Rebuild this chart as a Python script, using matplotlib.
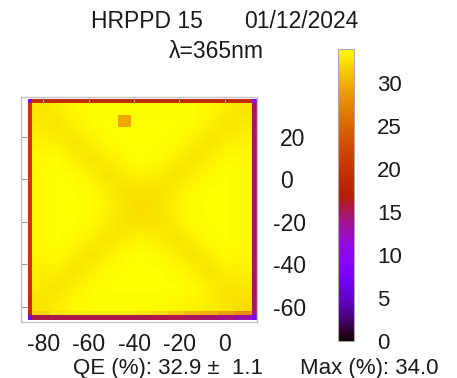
import numpy as np
import matplotlib
matplotlib.use('Agg')
import matplotlib.pyplot as plt
import matplotlib.transforms as mtransforms
from matplotlib.colors import Normalize
from matplotlib.cm import ScalarMappable

plt.rcParams['font.family'] = ['Liberation Sans', 'DejaVu Sans']

# QE map of the photocathode (%), inner part, rows from top to bottom
interior = [
    [32.7, 33.2, 33.6, 33.8, 33.8, 33.8, 33.8, 33.8, 33.8, 33.8, 33.6, 33.2, 32.8],
    [33.1, 32.8, 33.3, 33.7, 33.9, 33.9, 33.9, 33.9, 33.9, 33.7, 33.3, 32.8, 33.1],
    [33.4, 33.3, 32.8, 33.3, 33.7, 33.9, 33.9, 33.9, 33.7, 33.3, 32.8, 33.3, 33.4],
    [33.6, 33.7, 33.3, 32.8, 33.3, 33.7, 33.9, 33.7, 33.3, 32.8, 33.3, 33.7, 33.6],
    [33.7, 33.9, 33.7, 33.3, 32.8, 33.2, 33.5, 33.2, 32.8, 33.3, 33.7, 33.9, 33.7],
    [33.7, 33.9, 33.9, 33.7, 33.2, 32.6, 32.7, 32.6, 33.2, 33.7, 33.9, 33.9, 33.7],
    [33.7, 33.9, 33.9, 33.8, 33.4, 32.7, 32.3, 32.7, 33.4, 33.8, 33.9, 33.9, 33.7],
    [33.7, 33.9, 33.9, 33.7, 33.2, 32.6, 32.7, 32.6, 33.2, 33.7, 33.9, 33.9, 33.7],
    [33.7, 33.9, 33.7, 33.3, 32.8, 33.2, 33.5, 33.2, 32.8, 33.3, 33.7, 33.9, 33.7],
    [33.6, 33.7, 33.3, 32.8, 33.3, 33.7, 33.9, 33.7, 33.3, 32.8, 33.3, 33.7, 33.6],
    [33.4, 33.3, 32.8, 33.3, 33.7, 33.9, 33.9, 33.9, 33.7, 33.3, 32.8, 33.3, 33.4],
    [33.1, 32.8, 33.3, 33.7, 33.9, 33.9, 33.9, 33.9, 33.9, 33.7, 33.3, 32.8, 33.0],
    [32.7, 33.2, 33.6, 33.8, 33.8, 33.8, 33.8, 33.8, 33.6, 33.5, 33.2, 32.8, 32.4],
]
# row just above the bottom border (gets orange towards the right)
bottom_inner = [31.8, 32.8, 33.2, 33.2, 33.2, 33.2, 32.8, 32.3, 31.5, 30.6, 29.8, 29.0, 28.0]

# outer border cells, top/bottom include the two corners
top_edge = [9.0, 19.0, 19.0, 19.0, 19.0, 19.0, 19.0, 19.0, 19.0, 19.0, 19.0, 19.0, 19.0, 19.0, 10.0]
bottom_edge = [7.0, 15.5, 15.5, 15.5, 15.5, 15.5, 15.5, 15.5, 15.5, 15.5, 15.0, 14.5, 14.0, 13.0, 7.5]
# left/right border cells from top to bottom
left_edge = [20.5, 20.5, 20.5, 20.5, 20.5, 20.5, 20.5, 20.5, 20.5, 20.5, 20.5, 20.0, 19.5, 18.0]
right_edge = [15.0, 15.0, 15.0, 15.0, 15.0, 15.0, 15.0, 15.0, 15.0, 15.0, 15.0, 15.0, 15.0, 14.0]

# single low pixel near the top
pad_x = [-47.0, -41.3]
pad_y = [24.7, 30.4]
pad_value = [[29.5]]

x_ticks = [-80, -60, -40, -20, 0]
y_ticks = [-60, -40, -20, 0, 20]
cbar_ticks = [0, 5, 10, 15, 20, 25, 30]

W, H = 457, 378
fig = plt.figure(figsize=(W / 100, H / 100), dpi=100)


# turns a box in pixels (top-left origin) into figure fraction
def px_box(x0, y0, x1, y1):
    return [x0 / W, 1 - y1 / H, (x1 - x0) / W, (y1 - y0) / H]


cmap = plt.get_cmap('gnuplot')
norm = Normalize(vmin=0, vmax=34)
txt_color = '#1a1a1a'
fs = 16.5

ax = fig.add_axes(px_box(21, 97, 257, 322))

# inner area, smoothed like the original picture
ax.imshow(np.array(interior), extent=[-85, 12, -62, 36], origin='upper', cmap=cmap, norm=norm,
          interpolation='bilinear', aspect='auto')

col_edges = np.linspace(-85, 12, 14)
row_edges = np.r_[-64, np.linspace(-62, 36, 14)]
full_cols = np.r_[-87, col_edges, 14]

ax.pcolormesh(col_edges, [-64, -62], np.array([bottom_inner]), cmap=cmap, norm=norm)
ax.pcolormesh(full_cols, [36, 38], np.array([top_edge]), cmap=cmap, norm=norm)
ax.pcolormesh(full_cols, [-66, -64], np.array([bottom_edge]), cmap=cmap, norm=norm)
ax.pcolormesh([-87, -85], row_edges, np.array(left_edge)[::-1][:, None], cmap=cmap, norm=norm)
ax.pcolormesh([12, 14], row_edges, np.array(right_edge)[::-1][:, None], cmap=cmap, norm=norm)
ax.pcolormesh(pad_x, pad_y, np.array(pad_value), cmap=cmap, norm=norm)

ax.set_xlim(-89.9, 14.2)
ax.set_ylim(-67.1, 38.8)
for s in ax.spines.values():
    s.set_edgecolor('#c4c4c4')
    s.set_linewidth(1.0)

ax.set_xticks(x_ticks)
ax.set_xticklabels([str(v) for v in x_ticks])
ax.set_yticks(y_ticks)
ax.set_yticklabels([str(v) for v in y_ticks])
ax.tick_params(axis='x', top=True, bottom=False, labelbottom=True, direction='in', length=4,
               color='#9a9a9a', labelsize=fs, labelcolor=txt_color, pad=8)
ax.tick_params(axis='y', left=True, right=False, labelleft=False, labelright=True, direction='in',
               length=4, color='#9a9a9a', labelsize=fs, labelcolor=txt_color, pad=16.6)
# minus signs hang to the left of the digits
shift = mtransforms.ScaledTranslation(-7 / 100, 0, fig.dpi_scale_trans)
for lbl in ax.get_yticklabels():
    lbl.set_ha('left')
    if lbl.get_text().startswith('-'):
        lbl.set_transform(lbl.get_transform() + shift)

# colour scale
cax = fig.add_axes(px_box(338, 49, 354, 341))
cb = fig.colorbar(ScalarMappable(norm=norm, cmap=cmap), cax=cax)
cb.set_ticks(cbar_ticks)
cb.set_ticklabels([str(v) for v in cbar_ticks])
cax.tick_params(length=0, labelsize=16, labelcolor=txt_color, pad=16.6)
cb.outline.set_edgecolor('#a8a8a8')
cb.outline.set_linewidth(0.8)

# texts around the map
fig.text(147 / W, 1 - 28 / H, 'HRPPD 15', ha='center', va='baseline', fontsize=fs, color=txt_color)
fig.text(301 / W, 1 - 28 / H, '01/12/2024', ha='center', va='baseline', fontsize=fs, color=txt_color)
fig.text(216 / W, 1 - 58 / H, 'λ=365nm', ha='center', va='baseline', fontsize=fs, color=txt_color)
fig.text(168 / W, 1 - 374 / H, 'QE (%): 32.9 ±  1.1', ha='center', va='baseline', fontsize=16, color=txt_color)
fig.text(369 / W, 1 - 374 / H, 'Max (%): 34.0', ha='center', va='baseline', fontsize=16, color=txt_color)

fig.savefig('out.png', dpi=100)
